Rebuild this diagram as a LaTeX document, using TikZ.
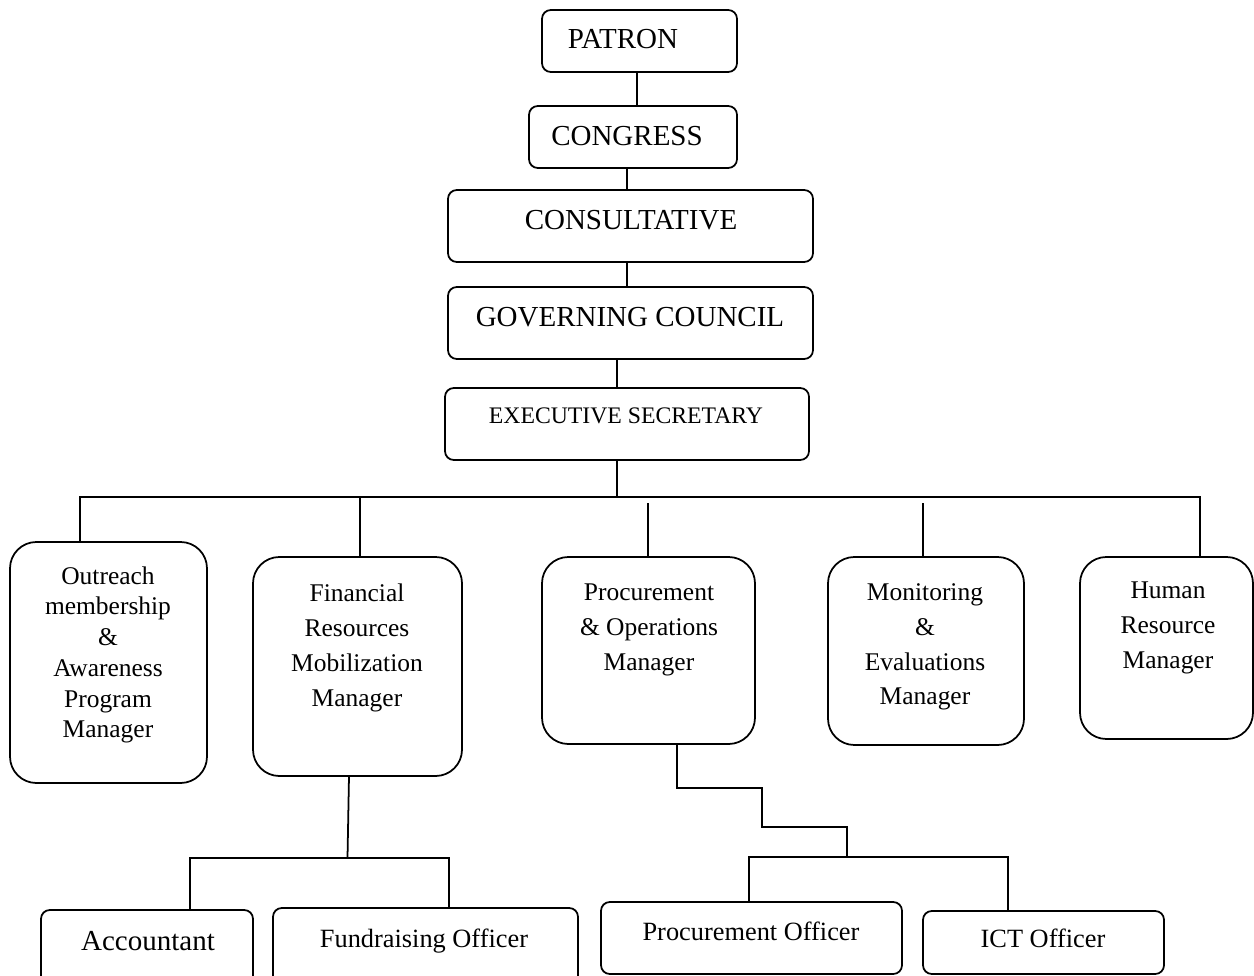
\documentclass[tikz,border=0pt]{standalone}
\usepackage{fontspec}
\setmainfont{Liberation Serif}
\newcommand{\orgbox}[6]{%
  \node[#6, minimum width={(#4-#2)*0.02cm}, minimum height={(#5-#3)*0.02cm}] (#1) at ({(#2+#4)/2},{(#3+#5)/2}) {};}
\begin{document}
\begin{tikzpicture}[x=0.02cm,y=-0.02cm,
  box/.style={draw, line width=1pt, inner sep=0pt, outer sep=0pt, rounded corners=5pt},
  bigbox/.style={box, rounded corners=15pt},
  conn/.style={draw, line width=1pt},
  big/.style={font=\fontsize{16.5}{20}\selectfont, inner sep=0pt, anchor=base},
  mid/.style={font=\fontsize{13.5}{16}\selectfont, inner sep=0pt, anchor=base},
  bot/.style={font=\fontsize{15}{18}\selectfont, inner sep=0pt, anchor=base},
  ml/.style={font=\fontsize{14.5}{19.8}\selectfont, align=center, inner sep=0pt},
  mlt/.style={font=\fontsize{14.5}{17.5}\selectfont, align=center, inner sep=0pt},
]
\useasboundingbox (0,0) rectangle (1254,976);
\clip (0,0) rectangle (1254,976);

% top column
\orgbox{patron}{542}{10}{737}{72}{box}
\orgbox{congress}{529}{106}{737}{168}{box}
\orgbox{consult}{448}{190}{813}{262}{box}
\orgbox{gov}{448}{287}{813}{359}{box}
\orgbox{exec}{445}{388}{809}{460}{box}

\node[big] (tpatron) at (623,49) {PATRON};
\node[big] (tcongress) at (627,146) {CONGRESS};
\node[big] (tconsult) at (631,230) {CONSULTATIVE};
\node[big] (tgov) at (630,327) {GOVERNING COUNCIL};
\node[mid] (texec) at (626,423) {EXECUTIVE SECRETARY};

% managers
\orgbox{outreach}{10}{542}{207}{783}{bigbox}
\orgbox{fin}{253}{557}{462}{776}{bigbox}
\orgbox{proc}{542}{557}{755}{744}{bigbox}
\orgbox{mon}{828}{557}{1024}{745}{bigbox}
\orgbox{hr}{1080}{557}{1253}{739}{bigbox}

\node[mlt] (toutreach) at (108,655) {Outreach\\membership\\\&\\Awareness\\Program\\Manager};
\node[ml] (tfin) at (357,648) {Financial\\Resources\\Mobilization\\Manager};
\node[ml] (tproc) at (649,630) {Procurement\\\& Operations\\Manager};
\node[ml] (tmon) at (925,647) {Monitoring\\\&\\Evaluations\\Manager};
\node[ml] (thr) at (1168,628) {Human\\Resource\\Manager};

% officers
\orgbox{acc}{41}{910}{253}{990}{box}
\orgbox{fund}{273}{908}{578}{990}{box}
\orgbox{pof}{601}{902}{902}{974}{box}
\orgbox{ict}{923}{911}{1164}{974}{box}

\node[bot, font=\fontsize{16.5}{20}\selectfont] (tacc) at (148,950) {Accountant};
\node[bot] (tfund) at (424,947) {Fundraising Officer};
\node[bot] (tpof) at (751,940) {Procurement Officer};
\node[bot] (tict) at (1043,947) {ICT Officer};

% connectors, top column
\draw[conn] (patron.south -| 637,0) -- (congress.north -| 637,0);
\draw[conn] (congress.south -| 627,0) -- (consult.north -| 627,0);
\draw[conn] (consult.south -| 627,0) -- (gov.north -| 627,0);
\draw[conn] (gov.south -| 617,0) -- (exec.north -| 617,0);

% bus to managers
\coordinate (busL) at (80,497);
\coordinate (busR) at (1200,497);
\coordinate (busE) at (617,497);
\draw[conn] (exec.south -| busE) -- (busE);
\draw[conn] (outreach.north -| busL) -- (busL) -- (busR) -- (hr.north -| busR);
\draw[conn] (360,497) -- (fin.north -| 360,0);
\coordinate (procTop) at (648,503);
\coordinate (monTop) at (923,503);
\draw[conn] (procTop) -- (proc.north -| procTop);
\draw[conn] (monTop) -- (mon.north -| monTop);

% financial sub-tree
\coordinate (finJ) at (347.5,858);
\draw[conn] (fin.south -| 349,0) -- (finJ);
\draw[conn] (acc.north -| 190,0) -- (190,858) -- (449,858) -- (fund.north -| 449,0);

% procurement sub-tree
\coordinate (s1) at (677,788);
\coordinate (s2) at (762,788);
\coordinate (s3) at (762,827);
\coordinate (s4) at (847,827);
\coordinate (s5) at (847,857);
\draw[conn] (proc.south -| s1) -- (s1) -- (s2) -- (s3) -- (s4) -- (s5);
\draw[conn] (pof.north -| 749,0) -- (749,857) -- (1008,857) -- (ict.north -| 1008,0);
\end{tikzpicture}
\end{document}
